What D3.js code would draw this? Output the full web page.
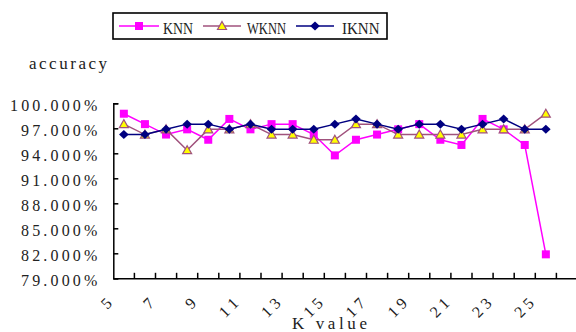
<!DOCTYPE html>
<html>
<head>
<meta charset="utf-8">
<script src="https://cdn.jsdelivr.net/npm/d3@7"></script>
<style>
  body { margin: 0; background: #fff; }
  svg { display: block; }
  text { font-family: "Liberation Serif", serif; fill: #222; }
</style>
</head>
<body>
<div id="grafico"></div>
<script>
// Dados
const categoriasK = [5, 6, 7, 8, 9, 10, 11, 12, 13, 14, 15, 16, 17, 18, 19, 20, 21, 22, 23, 24, 25, 26];
const rotulosK = [5, 7, 9, 11, 13, 15, 17, 19, 21, 23, 25];
const kComDados = [5, 6, 7, 8, 9, 10, 11, 12, 13, 14, 15, 16, 17, 18, 19, 20, 21, 22, 23, 24, 25];
const knn  = [98.75, 97.5, 96.25, 96.875, 95.625, 98.125, 96.875, 97.5, 97.5, 96.25, 93.75, 95.625, 96.25, 96.875, 97.5, 95.625, 95.0, 98.125, 96.875, 95.0, 81.875];
const wknn = [97.5, 96.25, 96.875, 94.375, 96.875, 96.875, 97.5, 96.25, 96.25, 95.625, 95.625, 97.5, 97.5, 96.25, 96.25, 96.25, 96.25, 96.875, 96.875, 96.875, 98.75];
const iknn = [96.25, 96.25, 96.875, 97.5, 97.5, 96.875, 97.5, 96.875, 96.875, 96.875, 97.5, 98.125, 97.5, 96.875, 97.5, 97.5, 96.875, 97.5, 98.125, 96.875, 96.875];
const ticksY = [79, 82, 85, 88, 91, 94, 97, 100];
const nomesSeries = ["KNN", "WKNN", "IKNN"];

const width = 576, height = 332;
const margemEsq = 113.3, topoY = 103.3, baseY = 278.3;

const svg = d3.select("#grafico").append("svg")
  .attr("width", width).attr("height", height);

const x = d3.scaleBand().domain(categoriasK).range([margemEsq, margemEsq + 22 * 21.1]).padding(0);
const y = d3.scaleLinear().domain([79, 100]).range([baseY, topoY]);

// eixo Y com ticks para dentro
const eixoY = svg.append("g")
  .attr("transform", `translate(${margemEsq},0)`)
  .call(d3.axisLeft(y).tickValues(ticksY).tickSize(-5).tickPadding(16)
    .tickFormat(d => d3.format(".3f")(d) + "%"));
eixoY.select(".domain").attr("stroke", "#000").attr("stroke-width", 1.5);
eixoY.selectAll(".tick line").attr("stroke", "#000").attr("stroke-width", 1.5);
eixoY.selectAll(".tick text")
  .attr("font-family", "Liberation Serif").attr("font-size", 16).attr("fill", "#222")
  .attr("dy", 7)
  .each(function() {
    const t = d3.select(this);
    t.attr("textLength", t.text().length * 10.9).attr("lengthAdjust", "spacing");
  });

// eixo X
const eixoX = svg.append("g")
  .attr("transform", `translate(0,${baseY})`)
  .call(d3.axisBottom(x).tickSize(0).tickFormat(""));
eixoX.select(".domain").attr("stroke", "#000").attr("stroke-width", 1.5);
eixoX.selectAll(".tick").remove();

svg.append("g").selectAll("line")
  .data(categoriasK.slice(1))
  .join("line")
  .attr("x1", d => x(d)).attr("x2", d => x(d))
  .attr("y1", baseY).attr("y2", baseY - 5.5)
  .attr("stroke", "#000").attr("stroke-width", 1.5);

svg.append("g").selectAll("text")
  .data(rotulosK)
  .join("text")
  .attr("transform", d => `translate(${x(d) + x.bandwidth() / 2 - 11},${baseY + 26}) rotate(-45)`)
  .attr("text-anchor", "end")
  .attr("font-size", 16)
  .attr("textLength", d => String(d).length * 10)
  .attr("lengthAdjust", "spacing")
  .text(d => d);

// títulos
svg.append("text").attr("x", 29).attr("y", 69).attr("font-size", 17)
  .attr("textLength", 78).attr("lengthAdjust", "spacing").text("accuracy");
svg.append("text").attr("x", 292).attr("y", 329).attr("font-size", 17)
  .attr("textLength", 75).attr("lengthAdjust", "spacing").text("K value");

// séries
const cores = { KNN: "#ff00ff", WKNN: "#a0527d", IKNN: "#000080" };
const dadosSeries = { KNN: knn, WKNN: wknn, IKNN: iknn };
const cx = k => x(k) + x.bandwidth() / 2;

const linha = d3.line().x(d => cx(d.k)).y(d => y(d.v));

function marcador(g, nome) {
  if (nome === "KNN") {
    g.append("rect").attr("x", -4).attr("y", -4).attr("width", 8).attr("height", 8)
      .attr("fill", cores.KNN);
  } else if (nome === "WKNN") {
    g.append("path").attr("d", "M0,-4.5L4.5,3.5L-4.5,3.5Z")
      .attr("fill", "#ffff00").attr("stroke", cores.WKNN).attr("stroke-width", 1.2);
  } else {
    g.append("path").attr("d", "M0,-4.5L4.8,0L0,4.5L-4.8,0Z")
      .attr("fill", cores.IKNN);
  }
}

nomesSeries.forEach(nome => {
  const pts = kComDados.map((k, i) => ({ k, v: dadosSeries[nome][i] }));
  svg.append("path").datum(pts)
    .attr("fill", "none").attr("stroke", cores[nome]).attr("stroke-width", 1.5)
    .attr("d", linha);
  svg.append("g").selectAll("g")
    .data(pts).join("g")
    .attr("transform", d => `translate(${cx(d.k)},${y(d.v)})`)
    .each(function() { marcador(d3.select(this), nome); });
});

// legenda
const leg = svg.append("g");
leg.append("rect").attr("x", 113).attr("y", 13).attr("width", 274).attr("height", 26)
  .attr("fill", "#fff").attr("stroke", "#000").attr("stroke-width", 1.6);
const itensLegenda = [
  { nome: "KNN", x1: 119, x2: 159, tx: 163, tl: 30 },
  { nome: "WKNN", x1: 203, x2: 241, tx: 247, tl: 39 },
  { nome: "IKNN", x1: 296, x2: 334, tx: 342, tl: 37.5 }
];
itensLegenda.forEach(it => {
  leg.append("line").attr("x1", it.x1).attr("x2", it.x2).attr("y1", 26).attr("y2", 26)
    .attr("stroke", cores[it.nome]).attr("stroke-width", 1.5);
  const g = leg.append("g").attr("transform", `translate(${(it.x1 + it.x2) / 2},26)`);
  marcador(g, it.nome);
  leg.append("text").attr("x", it.tx).attr("y", 33.5).attr("font-size", 17)
    .attr("textLength", it.tl).attr("lengthAdjust", "spacingAndGlyphs").text(it.nome);
});
</script>
</body>
</html>
